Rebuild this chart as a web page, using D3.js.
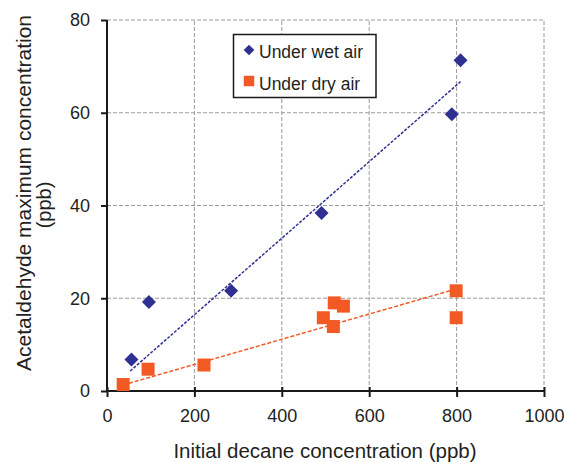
<!DOCTYPE html>
<html lang="en">
<head>
  <meta charset="UTF-8">
  <style>
    body {
      margin: 0;
      overflow: hidden;
      background: #fff;
    }

    svg {
      display: block;
      font-family: "Liberation Sans", Arial, sans-serif;
    }

    .grid line {
      stroke: #9a9a9a;
      stroke-width: 1;
      stroke-dasharray: 4, 2;
    }

    .axis path,
    .axis line {
      stroke: #1a1a1a;
      stroke-width: 2;
    }

    .axis text {
      font-size: 18px;
      fill: #231f20;
    }

    .title {
      font-size: 20.5px;
      fill: #231f20;
    }

    .legend text {
      font-size: 17.5px;
      fill: #231f20;
    }
  </style>
  <script src="https://d3js.org/d3.v7.min.js"></script>
</head>
<body>

<svg id="chart"></svg>

<script>
  // Initial decane concentration (ppb) and acetaldehyde maximum (ppb)
  const wetX = [56, 96, 284, 491, 789, 809];
  const wetY = [6.8, 19.2, 21.6, 38.4, 59.7, 71.3];

  const dryX = [37, 94, 222, 495, 518, 520, 541, 799, 799];
  const dryY = [1.4, 4.7, 5.6, 15.8, 13.9, 19.0, 18.3, 21.6, 15.8];

  // linear trend lines, start and end
  const wetFit = [[53, 4.3], [809, 66.7]];
  const dryFit = [[37, 1.3], [799, 22.0]];

  const xTicks = [0, 200, 400, 600, 800, 1000];
  const yTicks = [0, 20, 40, 60, 80];

  const blue = "#2e3192";
  const orange = "#f15a24";

  const width = 565, height = 462;
  const svg = d3.select("#chart")
    .attr("width", width)
    .attr("height", height);

  const x = d3.scaleLinear().domain([0, 1000]).range([107, 544]);
  const y = d3.scaleLinear().domain([0, 80]).range([391, 20]);

  // dashed grid
  const grid = svg.append("g").attr("class", "grid");
  grid.selectAll(".gx")
    .data(xTicks.filter(d => d > 0))
    .join("line")
    .attr("class", "gx")
    .attr("x1", d => x(d)).attr("x2", d => x(d))
    .attr("y1", y(0)).attr("y2", y(80));
  grid.selectAll(".gy")
    .data(yTicks.filter(d => d > 0))
    .join("line")
    .attr("class", "gy")
    .attr("x1", x(0)).attr("x2", x(1000))
    .attr("y1", d => y(d)).attr("y2", d => y(d));

  // axes
  const xAxis = svg.append("g")
    .attr("class", "axis")
    .attr("transform", `translate(0,${y(0)})`)
    .call(d3.axisBottom(x).tickValues(xTicks).tickFormat(d3.format("d"))
      .tickSize(6).tickPadding(12).tickSizeOuter(0));
  xAxis.selectAll(".tick line").attr("y1", -4).attr("stroke-width", 1.3);
  xAxis.select(".domain").attr("d", `M${x(0)},0H${x(1000)}`);

  const yAxis = svg.append("g")
    .attr("class", "axis")
    .attr("transform", `translate(${x(0)},0)`)
    .call(d3.axisLeft(y).tickValues(yTicks).tickSize(6).tickPadding(11).tickSizeOuter(0));
  yAxis.selectAll(".tick line").attr("stroke-width", 1.3);
  yAxis.select(".domain").attr("d", `M0,${y(0) + 1}V${y(80)}`);

  // trend lines
  const line = d3.line().x(d => x(d[0])).y(d => y(d[1]));
  svg.append("path")
    .attr("d", line(wetFit))
    .attr("fill", "none")
    .attr("stroke", blue)
    .attr("stroke-width", 1.5)
    .attr("stroke-dasharray", "3,1.5");
  svg.append("path")
    .attr("d", line(dryFit))
    .attr("fill", "none")
    .attr("stroke", orange)
    .attr("stroke-width", 1.5)
    .attr("stroke-dasharray", "4,2");

  // markers
  const diamond = d3.symbol().type(d3.symbolSquare).size(98);
  const square = d3.symbol().type(d3.symbolSquare).size(169);

  svg.append("g").selectAll("path")
    .data(dryX.map((d, i) => [d, dryY[i]]))
    .join("path")
    .attr("d", square)
    .attr("transform", d => `translate(${x(d[0])},${y(d[1])})`)
    .attr("fill", orange);

  svg.append("g").selectAll("path")
    .data(wetX.map((d, i) => [d, wetY[i]]))
    .join("path")
    .attr("d", diamond)
    .attr("transform", d => `translate(${x(d[0])},${y(d[1])}) rotate(45)`)
    .attr("fill", blue);

  // legend
  const legend = svg.append("g").attr("class", "legend");
  legend.append("rect")
    .attr("x", 233.5).attr("y", 34.5)
    .attr("width", 142.5).attr("height", 63)
    .attr("fill", "#fff")
    .attr("stroke", "#1a1a1a")
    .attr("stroke-width", 1.5);
  legend.append("path")
    .attr("d", d3.symbol().type(d3.symbolSquare).size(57)())
    .attr("transform", "translate(249,50) rotate(45)")
    .attr("fill", blue);
  legend.append("text").attr("x", 259).attr("y", 58).text("Under wet air");
  legend.append("path")
    .attr("d", d3.symbol().type(d3.symbolSquare).size(110)())
    .attr("transform", "translate(249,81)")
    .attr("fill", orange);
  legend.append("text").attr("x", 259).attr("y", 90).text("Under dry air");

  // axis titles
  svg.append("text")
    .attr("class", "title")
    .attr("x", 325).attr("y", 458)
    .attr("text-anchor", "middle")
    .text("Initial decane concentration (ppb)");

  svg.append("text")
    .attr("class", "title")
    .attr("transform", "translate(31,193) rotate(-90)")
    .attr("text-anchor", "middle")
    .style("font-size", "21px")
    .text("Acetaldehyde maximum concentration");
  svg.append("text")
    .attr("class", "title")
    .attr("transform", "translate(51,205) rotate(-90)")
    .attr("text-anchor", "middle")
    .style("font-size", "20px")
    .text("(ppb)");
</script>

</body>
</html>
